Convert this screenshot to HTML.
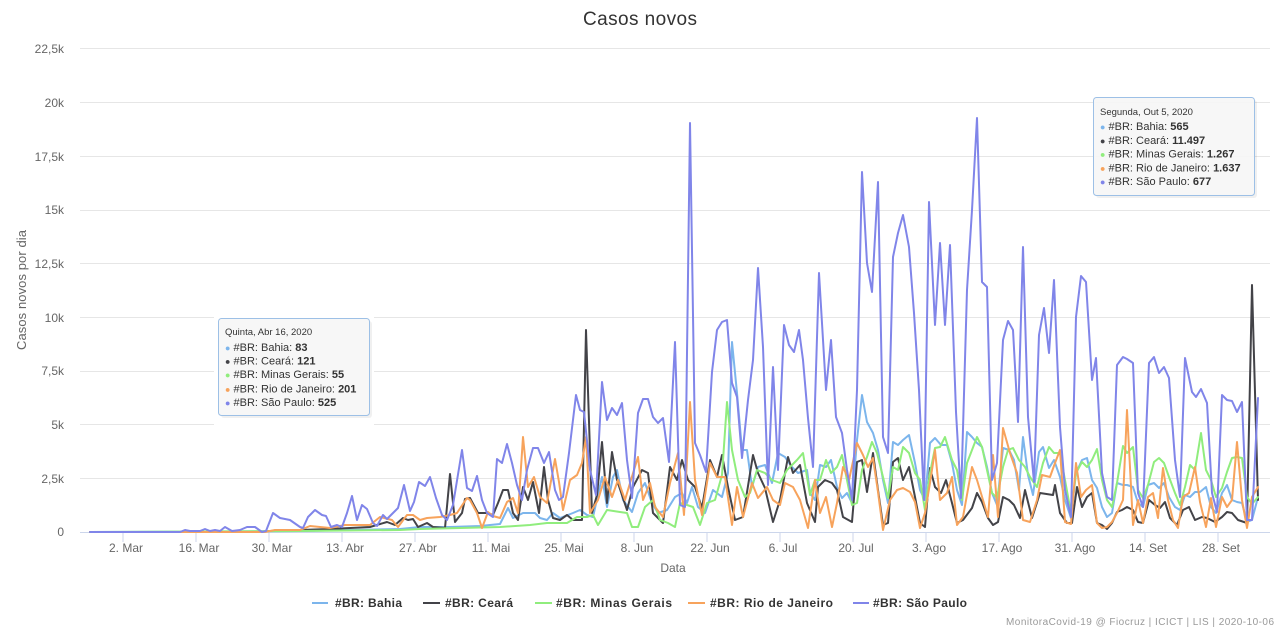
<!DOCTYPE html>
<html><head><meta charset="utf-8"><style>
html,body{margin:0;padding:0;background:#fff;}
svg{display:block;font-family:"Liberation Sans",sans-serif;}
</style></head><body>
<svg width="1280" height="631" viewBox="0 0 1280 631" xmlns="http://www.w3.org/2000/svg">
<rect width="1280" height="631" fill="#fff"/>
<text x="640" y="25" text-anchor="middle" font-size="19" fill="#333" textLength="114">Casos novos</text>
<g stroke="#e6e6e6" stroke-width="1">
<line x1="80" x2="1270" y1="48.5" y2="48.5"/>
<line x1="80" x2="1270" y1="102.5" y2="102.5"/>
<line x1="80" x2="1270" y1="156.5" y2="156.5"/>
<line x1="80" x2="1270" y1="210.5" y2="210.5"/>
<line x1="80" x2="1270" y1="263.5" y2="263.5"/>
<line x1="80" x2="1270" y1="317.5" y2="317.5"/>
<line x1="80" x2="1270" y1="371.5" y2="371.5"/>
<line x1="80" x2="1270" y1="424.5" y2="424.5"/>
<line x1="80" x2="1270" y1="478.5" y2="478.5"/>
</g>
<line x1="80" x2="1270" y1="532.5" y2="532.5" stroke="#ccd6eb"/>
<g stroke="#ccd6eb" stroke-width="1">
<line x1="123" x2="123" y1="532" y2="542"/><line x1="196" x2="196" y1="532" y2="542"/><line x1="269" x2="269" y1="532" y2="542"/><line x1="342" x2="342" y1="532" y2="542"/><line x1="415" x2="415" y1="532" y2="542"/><line x1="488" x2="488" y1="532" y2="542"/><line x1="561" x2="561" y1="532" y2="542"/><line x1="634" x2="634" y1="532" y2="542"/><line x1="707" x2="707" y1="532" y2="542"/><line x1="780" x2="780" y1="532" y2="542"/><line x1="853" x2="853" y1="532" y2="542"/><line x1="926" x2="926" y1="532" y2="542"/><line x1="999" x2="999" y1="532" y2="542"/><line x1="1072" x2="1072" y1="532" y2="542"/><line x1="1145" x2="1145" y1="532" y2="542"/><line x1="1218" x2="1218" y1="532" y2="542"/>
</g>
<g font-size="12" fill="#666" text-anchor="middle">
<text x="126" y="552">2. Mar</text><text x="199" y="552">16. Mar</text><text x="272" y="552">30. Mar</text><text x="345" y="552">13. Abr</text><text x="418" y="552">27. Abr</text><text x="491" y="552">11. Mai</text><text x="564" y="552">25. Mai</text><text x="637" y="552">8. Jun</text><text x="710" y="552">22. Jun</text><text x="783" y="552">6. Jul</text><text x="856" y="552">20. Jul</text><text x="929" y="552">3. Ago</text><text x="1002" y="552">17. Ago</text><text x="1075" y="552">31. Ago</text><text x="1148" y="552">14. Set</text><text x="1221" y="552">28. Set</text>
</g>
<g font-size="12" fill="#666" text-anchor="end">
<text x="64" y="53">22,5k</text><text x="64" y="107">20k</text><text x="64" y="161">17,5k</text><text x="64" y="214">15k</text><text x="64" y="268">12,5k</text><text x="64" y="322">10k</text><text x="64" y="375">7,5k</text><text x="64" y="429">5k</text><text x="64" y="483">2,5k</text><text x="64" y="536">0</text>
</g>
<text x="673" y="572" text-anchor="middle" font-size="12" fill="#666">Data</text>
<text transform="translate(26,290) rotate(-90)" text-anchor="middle" font-size="13" fill="#666" textLength="120">Casos novos por dia</text>

<g fill="none" stroke-width="2" stroke-linejoin="round" stroke-linecap="round">
<polyline stroke="#7cb5ec" points="90,532 300,531 350,530 400,529 420,527 450,527 480,526 500,524 508,508 513,518 523,513 535,513 540,518 547,520 553,513 560,518 573,513 580,510 587,515 593,517 602,477 607,507 613,477 617,470 623,500 632,512 638,493 645,483 652,503 658,513 667,510 675,497 682,493 687,503 692,487 698,507 705,513 713,490 722,497 728,473 732,342 737,393 742,450 747,450 752,487 758,467 765,465 772,483 778,453 785,457 792,467 798,473 807,470 810,493 815,500 820,465 826,467 831,460 837,487 842,498 847,493 852,503 857,440 862,395 867,422 873,433 878,450 883,480 888,503 893,442 898,445 903,440 909,435 915,463 920,490 925,500 930,443 935,438 941,445 947,445 952,463 957,490 962,505 967,432 972,437 977,443 982,447 987,467 992,493 997,505 1003,448 1009,450 1014,460 1019,490 1023,437 1028,475 1033,495 1039,452 1043,447 1049,468 1054,460 1060,477 1065,500 1071,518 1076,473 1082,460 1087,458 1092,480 1097,488 1102,507 1107,517 1112,513 1117,483 1123,485 1127,485 1133,487 1138,503 1143,507 1148,485 1154,483 1159,488 1164,483 1169,497 1175,507 1180,510 1185,495 1190,497 1195,492 1200,492 1206,487 1211,507 1216,513 1222,493 1227,485 1232,500 1237,502 1242,503 1247,522 1252,520 1258,497"/>
<polyline stroke="#434348" points="90,532 260,532 270,531 300,530 330,529 350,528 370,527 387,522 395,525 403,518 408,520 413,519 418,527 427,523 433,527 445,528 450,474 455,522 462,513 465,499 470,498 478,513 487,513 493,515 498,503 503,490 508,490 513,513 518,520 523,487 528,500 533,482 539,513 544,467 548,500 553,518 560,520 567,515 573,520 582,520 586,330 592,513 597,495 602,442 607,503 612,452 617,480 622,495 627,510 633,487 642,470 648,473 653,513 663,523 670,467 677,480 682,460 688,480 695,487 702,508 710,460 717,477 722,455 728,487 735,520 743,517 753,455 758,473 765,488 773,522 780,500 788,457 793,473 800,465 807,503 815,522 818,487 825,480 832,483 837,490 843,517 852,522 857,462 862,460 867,492 873,453 878,490 883,525 888,523 893,462 898,458 903,480 909,467 915,497 920,523 925,527 930,468 935,487 941,493 946,480 952,503 957,523 963,520 972,508 977,493 982,502 988,518 993,525 998,522 1003,497 1009,500 1014,505 1020,518 1025,490 1032,518 1040,493 1053,495 1055,485 1060,513 1067,523 1072,523 1077,487 1082,507 1087,497 1092,493 1097,523 1102,525 1107,529 1112,523 1117,512 1122,510 1127,507 1133,510 1138,522 1143,523 1149,500 1155,505 1160,508 1165,502 1170,518 1177,525 1183,510 1189,507 1195,520 1202,517 1207,518 1215,522 1222,517 1227,512 1232,513 1238,520 1247,523 1252,285 1258,500"/>
<polyline stroke="#90ed7d" points="90,532 300,531 400,530 420,529 500,527 530,525 547,523 567,523 577,517 587,517 593,515 598,525 607,510 620,512 627,513 632,527 638,527 645,507 653,500 660,520 668,523 675,527 680,503 687,505 693,507 700,525 707,503 715,500 722,475 727,402 732,450 738,480 745,497 750,493 757,470 765,473 772,480 780,483 787,470 797,460 803,453 810,495 815,480 820,480 826,460 831,473 837,467 842,455 847,480 852,505 857,503 862,470 867,457 872,442 877,453 883,477 888,498 893,467 898,470 903,447 909,453 915,473 920,480 925,510 930,473 935,448 940,447 945,437 952,460 957,470 962,500 967,463 972,450 977,437 982,447 987,470 992,493 997,498 1003,467 1008,450 1013,448 1019,460 1025,467 1030,477 1037,487 1043,463 1049,447 1054,453 1060,453 1065,480 1071,513 1076,473 1082,462 1087,467 1092,460 1097,449 1102,480 1107,500 1112,507 1117,483 1123,446 1127,453 1133,447 1138,490 1143,498 1148,485 1154,462 1159,458 1164,463 1169,477 1175,493 1180,505 1185,487 1190,465 1195,470 1201,433 1206,470 1211,480 1216,497 1222,488 1227,472 1232,458 1237,457 1242,458 1247,497 1252,504 1258,497"/>
<polyline stroke="#f7a35c" points="90,532 265,532 275,530 300,530 310,526 330,528 345,525 370,525 380,517 392,520 398,527 407,515 413,515 420,520 427,518 440,517 450,515 457,513 467,498 470,500 477,513 482,528 488,512 493,516 500,518 507,502 513,498 518,513 523,437 528,487 534,477 540,497 547,503 555,459 559,482 563,510 570,480 577,475 582,463 586,437 590,513 598,500 605,477 612,497 618,480 625,500 630,483 638,457 643,500 650,483 655,507 663,517 670,483 678,453 684,515 690,402 695,480 702,515 710,463 717,477 725,477 732,525 737,487 743,517 752,483 758,498 767,487 773,500 780,505 785,483 793,487 800,500 808,528 815,480 820,513 826,497 832,527 837,503 843,467 849,480 857,443 863,455 868,467 873,458 878,492 883,530 890,500 897,490 903,488 910,492 915,502 920,528 925,513 930,483 935,450 940,500 947,493 952,477 957,525 963,517 972,467 977,480 983,500 988,517 993,455 998,517 1003,428 1010,453 1017,473 1023,520 1030,522 1037,500 1042,475 1050,477 1055,463 1060,450 1065,522 1071,524 1076,463 1081,497 1086,490 1092,485 1097,523 1102,528 1107,527 1112,522 1117,513 1123,500 1127,410 1133,525 1138,500 1143,523 1148,497 1153,493 1158,518 1163,468 1168,500 1173,520 1178,528 1183,497 1189,493 1195,467 1200,502 1206,527 1211,498 1216,527 1222,497 1227,507 1232,500 1237,442 1242,500 1247,528 1252,497 1258,487"/>
<polyline stroke="#8085e9" points="90,532 180,532 185,530 190,531 200,531 205,529 210,531 215,530 220,531 225,527 232,531 240,530 247,527 255,527 262,532 266,531 273,513 280,518 290,520 300,527 303,528 308,517 315,510 322,515 326,516 331,527 337,525 342,527 347,513 352,496 357,520 362,505 367,509 373,523 377,526 383,515 387,519 393,513 398,508 404,485 410,511 414,502 419,482 425,486 430,477 436,498 442,515 447,520 453,505 462,450 467,488 472,491 477,476 482,500 487,513 493,517 497,459 502,463 507,444 512,463 517,485 522,500 527,470 533,448 538,448 544,463 549,452 555,490 559,500 563,497 569,453 576,395 580,410 584,412 590,470 596,495 602,382 607,420 612,408 617,415 622,403 627,460 632,498 638,413 643,399 648,399 653,417 658,423 663,418 669,462 675,342 680,505 685,507 690,123 695,443 700,455 706,472 712,372 717,330 722,322 727,320 732,383 737,397 742,458 748,400 753,360 758,268 763,347 768,485 773,367 778,470 784,325 789,345 794,352 799,330 803,360 808,418 813,467 819,273 826,390 831,340 836,417 842,433 847,470 852,500 857,390 862,172 867,263 872,292 878,182 883,437 888,453 893,257 898,233 903,215 909,247 914,313 919,390 924,500 929,202 935,325 940,243 945,325 950,245 956,412 961,498 967,290 972,210 977,118 982,282 987,287 992,480 997,463 1003,340 1008,321 1013,330 1018,422 1023,247 1028,417 1034,482 1039,335 1044,308 1049,353 1054,280 1060,427 1065,490 1071,517 1076,317 1081,276 1086,282 1092,380 1096,358 1102,473 1107,497 1112,500 1117,365 1123,357 1127,359 1133,363 1138,493 1143,507 1149,363 1154,357 1159,373 1164,367 1169,378 1175,460 1180,497 1185,358 1192,392 1196,397 1201,389 1207,403 1212,493 1217,512 1222,395 1227,400 1232,401 1237,412 1242,402 1247,520 1252,520 1258,398"/>
</g>

<!-- tooltip 1 -->
<rect x="214" y="316" width="160" height="113" fill="#fff"/>
<rect x="219.5" y="319.5" width="151" height="97" rx="3" fill="#000" opacity="0.06" transform="translate(1.5,1.5)"/>
<rect x="218.5" y="318.5" width="151" height="97" rx="3" fill="#f7f7f7" fill-opacity="0.95" stroke="#9dc0e6" stroke-width="1"/>
<g font-size="11" fill="#333">
<text x="225" y="335" font-size="9.5">Quinta, Abr 16, 2020</text>
<text x="225" y="351"><tspan fill="#7cb5ec" font-size="9">●</tspan> #BR: Bahia: <tspan font-weight="bold">83</tspan></text>
<text x="225" y="364.5"><tspan fill="#434348" font-size="9">●</tspan> #BR: Ceará: <tspan font-weight="bold">121</tspan></text>
<text x="225" y="378"><tspan fill="#90ed7d" font-size="9">●</tspan> #BR: Minas Gerais: <tspan font-weight="bold">55</tspan></text>
<text x="225" y="392.5"><tspan fill="#f7a35c" font-size="9">●</tspan> #BR: Rio de Janeiro: <tspan font-weight="bold">201</tspan></text>
<text x="225" y="406"><tspan fill="#8085e9" font-size="9">●</tspan> #BR: São Paulo: <tspan font-weight="bold">525</tspan></text>
</g>

<!-- tooltip 2 -->
<rect x="1094.5" y="98.5" width="161" height="98" rx="3" fill="#000" opacity="0.06" transform="translate(1.5,1.5)"/>
<rect x="1093.5" y="97.5" width="161" height="98" rx="3" fill="#f7f7f7" fill-opacity="0.95" stroke="#9dc0e6" stroke-width="1"/>
<g font-size="11" fill="#333">
<text x="1100" y="115" font-size="9.5">Segunda, Out 5, 2020</text>
<text x="1100" y="130"><tspan fill="#7cb5ec" font-size="9">●</tspan> #BR: Bahia: <tspan font-weight="bold">565</tspan></text>
<text x="1100" y="144"><tspan fill="#434348" font-size="9">●</tspan> #BR: Ceará: <tspan font-weight="bold">11.497</tspan></text>
<text x="1100" y="157.5"><tspan fill="#90ed7d" font-size="9">●</tspan> #BR: Minas Gerais: <tspan font-weight="bold">1.267</tspan></text>
<text x="1100" y="171.5"><tspan fill="#f7a35c" font-size="9">●</tspan> #BR: Rio de Janeiro: <tspan font-weight="bold">1.637</tspan></text>
<text x="1100" y="185"><tspan fill="#8085e9" font-size="9">●</tspan> #BR: São Paulo: <tspan font-weight="bold">677</tspan></text>
</g>

<!-- legend -->
<g stroke-width="2">
<line x1="312" x2="328" y1="603" y2="603" stroke="#7cb5ec"/>
<line x1="423" x2="440" y1="603" y2="603" stroke="#434348"/>
<line x1="535" x2="552" y1="603" y2="603" stroke="#90ed7d"/>
<line x1="688" x2="705" y1="603" y2="603" stroke="#f7a35c"/>
<line x1="853" x2="869" y1="603" y2="603" stroke="#8085e9"/>
</g>
<g font-size="12" font-weight="bold" fill="#333">
<text x="335" y="607" textLength="67">#BR: Bahia</text>
<text x="445" y="607" textLength="68">#BR: Ceará</text>
<text x="556" y="607" textLength="116">#BR: Minas Gerais</text>
<text x="710" y="607" textLength="123">#BR: Rio de Janeiro</text>
<text x="873" y="607" textLength="94">#BR: São Paulo</text>
</g>
<text x="1274" y="625" text-anchor="end" font-size="10" fill="#999" textLength="268">MonitoraCovid-19 @ Fiocruz | ICICT | LIS | 2020-10-06</text>
</svg>
</body></html>
